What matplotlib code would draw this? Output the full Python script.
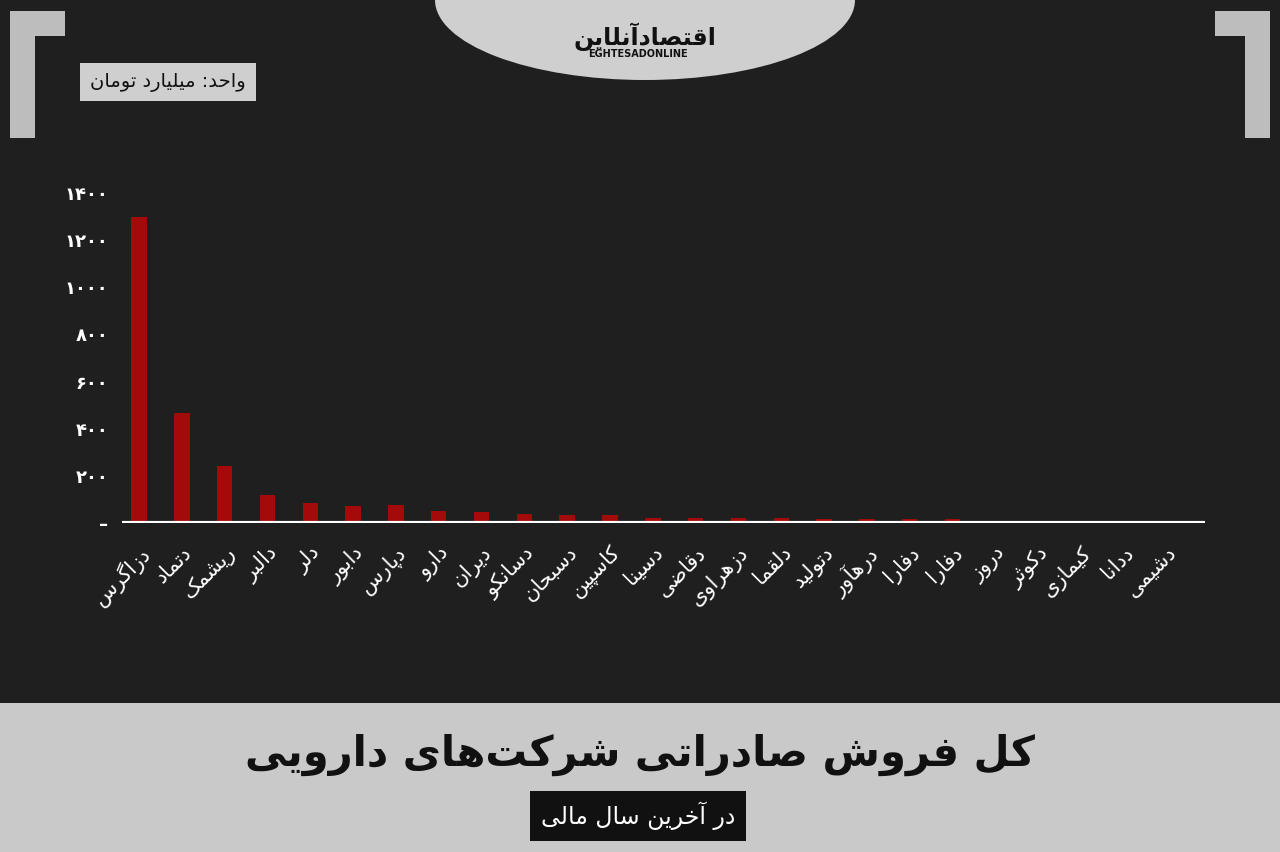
import numpy as np
import matplotlib
matplotlib.use("Agg")
import matplotlib.pyplot as plt
from matplotlib.patches import Rectangle, Ellipse

companies = ["دزاگرس", "دتماد", "ریشمک", "دالبر", "دلر", "دابور", "دپارس", "دارو",
             "دیران", "دسانکو", "دسبحان", "کاسپین", "دسینا", "دقاضی", "دزهراوی", "دلقما",
             "دتولید", "درهآور", "دفارا", "دفارا", "دروز", "دکوثر", "کیمازی", "ددانا", "دشیمی"]
sales = [1300, 467, 242, 119, 85, 72, 76, 50, 45, 40, 36, 32, 22, 22, 21, 21,
         18, 17, 17, 16, 4, 1, 0.5, 0.5, 0.5]
yticks = [0, 200, 400, 600, 800, 1000, 1200, 1400]

# minimal Persian shaping (matplotlib has no Arabic shaping / RTL)
FORMS = {
    "ا": (0xFE8D, 0xFE8E, None, None), "آ": (0xFE81, 0xFE82, None, None),
    "ب": (0xFE8F, 0xFE90, 0xFE91, 0xFE92), "ت": (0xFE95, 0xFE96, 0xFE97, 0xFE98),
    "ث": (0xFE99, 0xFE9A, 0xFE9B, 0xFE9C), "ج": (0xFE9D, 0xFE9E, 0xFE9F, 0xFEA0),
    "ح": (0xFEA1, 0xFEA2, 0xFEA3, 0xFEA4), "خ": (0xFEA5, 0xFEA6, 0xFEA7, 0xFEA8),
    "د": (0xFEA9, 0xFEAA, None, None), "ذ": (0xFEAB, 0xFEAC, None, None),
    "ر": (0xFEAD, 0xFEAE, None, None), "ز": (0xFEAF, 0xFEB0, None, None),
    "ژ": (0xFB8A, 0xFB8B, None, None),
    "س": (0xFEB1, 0xFEB2, 0xFEB3, 0xFEB4), "ش": (0xFEB5, 0xFEB6, 0xFEB7, 0xFEB8),
    "ص": (0xFEB9, 0xFEBA, 0xFEBB, 0xFEBC), "ض": (0xFEBD, 0xFEBE, 0xFEBF, 0xFEC0),
    "ط": (0xFEC1, 0xFEC2, 0xFEC3, 0xFEC4), "ظ": (0xFEC5, 0xFEC6, 0xFEC7, 0xFEC8),
    "ع": (0xFEC9, 0xFECA, 0xFECB, 0xFECC), "غ": (0xFECD, 0xFECE, 0xFECF, 0xFED0),
    "ف": (0xFED1, 0xFED2, 0xFED3, 0xFED4), "ق": (0xFED5, 0xFED6, 0xFED7, 0xFED8),
    "ل": (0xFEDD, 0xFEDE, 0xFEDF, 0xFEE0), "م": (0xFEE1, 0xFEE2, 0xFEE3, 0xFEE4),
    "ن": (0xFEE5, 0xFEE6, 0xFEE7, 0xFEE8), "ه": (0xFEE9, 0xFEEA, 0xFEEB, 0xFEEC),
    "و": (0xFEED, 0xFEEE, None, None), "ی": (0xFBFC, 0xFBFD, 0xFBFE, 0xFBFF),
    "پ": (0xFB56, 0xFB57, 0xFB58, 0xFB59), "چ": (0xFB7A, 0xFB7B, 0xFB7C, 0xFB7D),
    "ک": (0xFB8E, 0xFB8F, 0xFB90, 0xFB91), "گ": (0xFB92, 0xFB93, 0xFB94, 0xFB95),
}


def fa(text):
    out = []
    n = len(text)
    for i, c in enumerate(text):
        if c not in FORMS:
            if c != "\u200c":
                out.append(c)
            continue
        iso, fin, ini, med = FORMS[c]
        prev = text[i - 1] if i > 0 else ""
        nxt = text[i + 1] if i < n - 1 else ""
        joinPrev = prev in FORMS and FORMS[prev][2] is not None
        joinNext = nxt in FORMS and ini is not None
        if joinPrev and joinNext:
            code = med
        elif joinPrev:
            code = fin
        elif joinNext:
            code = ini
        else:
            code = iso
        out.append(chr(code))
    return "".join(out[::-1])


def faDigits(v):
    return str(v).translate(str.maketrans("0123456789", "۰۱۲۳۴۵۶۷۸۹"))


plt.rcParams["font.family"] = ["DejaVu Sans"]

fig = plt.figure(figsize=(12.8, 8.52), dpi=100)
fig.patch.set_facecolor("#1f1f1f")

# bottom band
fig.patches.append(Rectangle((0, 0), 1, 149 / 852, transform=fig.transFigure,
                             facecolor="#c9c9c9", edgecolor="none", zorder=0))
# top semicircle
fig.patches.append(Ellipse((645 / 1280, 1.0), 420 / 1280, 160 / 852, transform=fig.transFigure,
                           facecolor="#cfcfcf", edgecolor="none", zorder=0))
# corner brackets
for x0, x1 in [(10 / 1280, 35 / 1280), (1245 / 1280, 1270 / 1280)]:
    fig.patches.append(Rectangle((x0, 714 / 852), x1 - x0, 127 / 852, transform=fig.transFigure,
                                 facecolor="#bdbdbd", edgecolor="none"))
fig.patches.append(Rectangle((10 / 1280, 816 / 852), 55 / 1280, 25 / 852, transform=fig.transFigure,
                             facecolor="#bdbdbd", edgecolor="none"))
fig.patches.append(Rectangle((1215 / 1280, 816 / 852), 55 / 1280, 25 / 852, transform=fig.transFigure,
                             facecolor="#bdbdbd", edgecolor="none"))

fig.text(645 / 1280, 815 / 852, fa("اقتصادآنلاین"), ha="center", va="center",
         fontsize=17, fontweight="bold", color="#111111")
fig.text(638 / 1280, 798 / 852, "EGHTESADONLINE", ha="center", va="center",
         fontsize=7, fontweight="bold", color="#111111")

fig.text(168 / 1280, 770 / 852, fa("واحد: میلیارد تومان"), ha="center", va="center",
         fontsize=14, color="#111111",
         bbox=dict(boxstyle="square,pad=0.5", facecolor="#cfcfcf", edgecolor="none"))

ax = fig.add_axes([122 / 1280, 1 - 523 / 852, (1205 - 122) / 1280, 330 / 852])
ax.set_facecolor("none")
x = np.arange(len(companies))
ax.bar(x, sales, width=0.36, color="#a30b0b", zorder=2)
ax.axhline(0, color="white", lw=3, zorder=3)
ax.set_xlim(-0.4, len(companies) - 0.1)
ax.set_ylim(0, 1400)
ax.set_yticks(yticks)
ax.set_yticklabels(["–"] + [faDigits(v) for v in yticks[1:]], color="white",
                   fontsize=13, fontweight="bold")
ax.set_xticks(x)
ax.set_xticklabels([fa(c) for c in companies], rotation=45, ha="right",
                   rotation_mode="anchor", color="white", fontsize=15)
ax.tick_params(length=0, pad=14)
ax.tick_params(axis="y", pad=10)
for s in ax.spines.values():
    s.set_visible(False)

fig.text(640 / 1280, 97 / 852, fa("کل فروش صادراتی شرکت‌های دارویی"), ha="center", va="center",
         fontsize=30, fontweight="bold", color="#111111")
fig.text(638 / 1280, 36 / 852, fa("در آخرین سال مالی"), ha="center", va="center",
         fontsize=17, color="white",
         bbox=dict(boxstyle="square,pad=0.45", facecolor="#111111", edgecolor="none"))

fig.savefig("out.png", dpi=100, facecolor=fig.get_facecolor())
